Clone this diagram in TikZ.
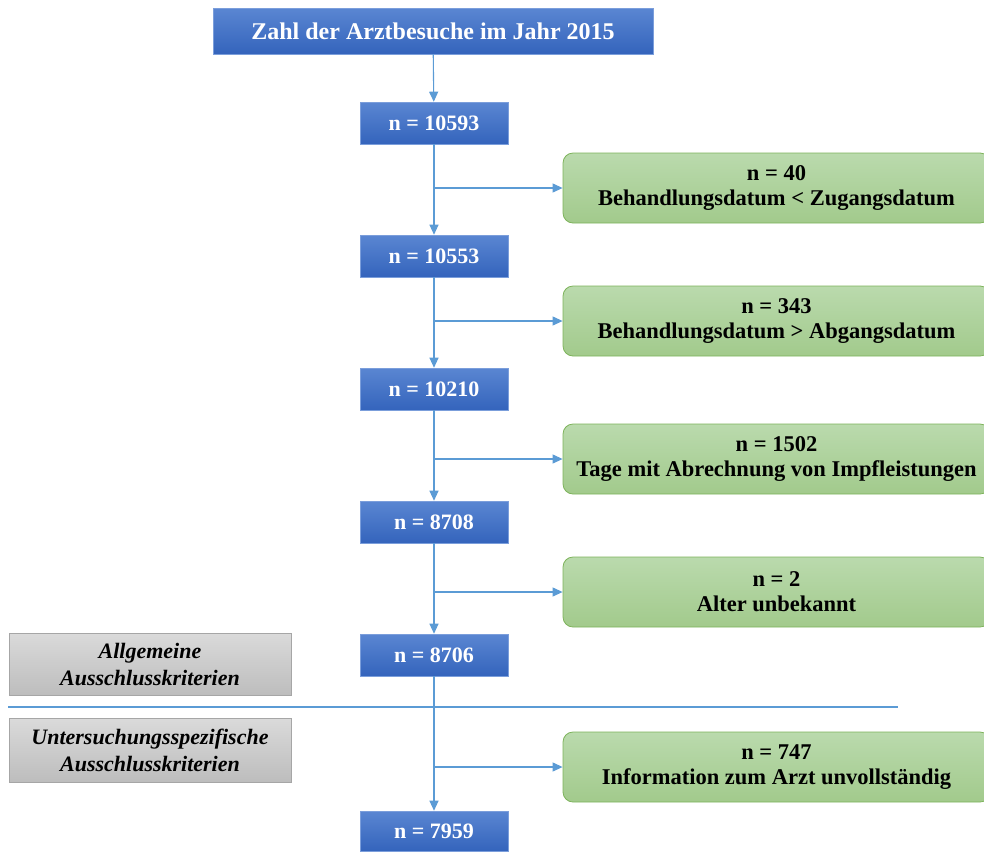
\documentclass[tikz,border=0pt]{standalone}
\usepackage{fontspec}
\setmainfont{Liberation Serif}
\usetikzlibrary{arrows.meta}
\definecolor{lineblue}{HTML}{5B9BD5}
\definecolor{boxtop}{HTML}{5A86D2}
\definecolor{boxbot}{HTML}{3464BC}
\definecolor{greentop}{HTML}{BADAAD}
\definecolor{greenbot}{HTML}{A2CA8C}
\definecolor{greenrim}{HTML}{7DB35B}
\definecolor{graytop}{HTML}{DADADA}
\definecolor{graybot}{HTML}{BDBDBD}
\definecolor{grayrim}{HTML}{A6A6A6}
\tikzset{
	nbox/.style={draw=boxtop!80!white, line width=0.6pt, top color=boxtop, bottom color=boxbot,
		text=white, font=\fontsize{22}{26}\selectfont\bfseries, minimum width=148pt, minimum height=42pt, inner sep=0pt},
	outbox/.style={draw=greenrim, line width=0.8pt, rounded corners=10pt, top color=greentop, bottom color=greenbot,
		font=\fontsize{22.5}{25}\selectfont\bfseries, align=center, minimum width=427pt, minimum height=70pt, inner sep=0pt},
	critbox/.style={draw=grayrim, line width=0.6pt, top color=graytop, bottom color=graybot,
		font=\fontsize{22}{27}\selectfont\bfseries\itshape, align=center, minimum width=282pt, inner sep=0pt},
	flow/.style={draw=lineblue, line width=1.1pt, -{Triangle[length=10pt,width=9pt]}},
}
\begin{document}
\begin{tikzpicture}[x=1pt, y=-1pt]
			\useasboundingbox (0,0) rectangle (984,852);
			% main column
			\node (Za) at (433,31) [nbox, minimum width=440pt, minimum height=46pt, font=\fontsize{24}{28}\selectfont\bfseries] {Zahl der Arztbesuche im Jahr 2015};
			\node (N1) at (434,123) [nbox] {n = 10593};
			\node (N2) at (434,256) [nbox] {n = 10553};
			\node (N3) at (434,389) [nbox] {n = 10210};
			\node (N4) at (434,522) [nbox] {n = 8708};
			\node (N5) at (434,655) [nbox] {n = 8706};
			\node (N6) at (434,831) [nbox, minimum height=40pt] {n = 7959};
			% excluded
			\node (E1) at (776.5,188) [outbox] {n = 40\\Behandlungsdatum < Zugangsdatum};
			\node (E2) at (776.5,321) [outbox] {n = 343\\Behandlungsdatum > Abgangsdatum};
			\node (E3) at (776.5,459) [outbox] {n = 1502\\Tage mit Abrechnung von Impfleistungen};
			\node (E4) at (776.5,592) [outbox] {n = 2\\Alter unbekannt};
			\node (E5) at (776.5,767) [outbox] {n = 747\\Information zum Arzt unvollständig};
			% criteria
			\node (Al) at (150,664) [critbox, minimum height=62pt] {Allgemeine\\Ausschlusskriterien};
			\node (Us) at (150,750) [critbox, minimum height=64pt] {Untersuchungsspezifische\\Ausschlusskriterien};
			\coordinate (Ll) at (8,707);
			\coordinate (Lr) at (898,707);
			\draw[lineblue, line width=1.1pt] (Ll) -- (Lr);
			% connectors
			\draw[flow] (Za) -- (N1);
			\draw[flow] (N1) -- (N2);
			\draw[flow] (N2) -- (N3);
			\draw[flow] (N3) -- (N4);
			\draw[flow] (N4) -- (N5);
			\draw[flow] (N5) -- (N6);
			\draw[flow] (N1.south |- E1.west) -- (E1);
			\draw[flow] (N2.south |- E2.west) -- (E2);
			\draw[flow] (N3.south |- E3.west) -- (E3);
			\draw[flow] (N4.south |- E4.west) -- (E4);
			\draw[flow] (N5.south |- E5.west) -- (E5);
		\end{tikzpicture}
\end{document}
